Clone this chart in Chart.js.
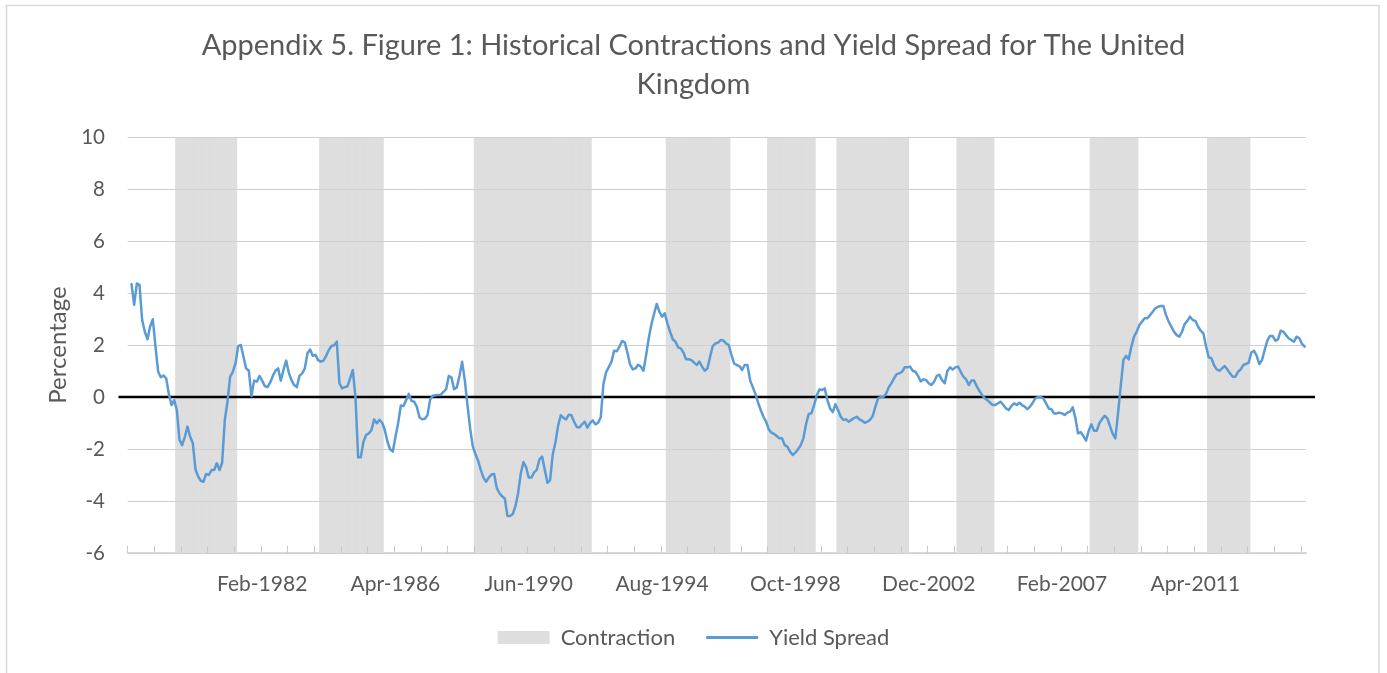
<!DOCTYPE html>
<html>
<head>
<meta charset="utf-8">
<script src="https://cdn.jsdelivr.net/npm/chart.js@4.4.0/dist/chart.umd.min.js"></script>
<style>
html,body{margin:0;padding:0;background:#fff;}
#wrap{width:1387px;height:673px;position:relative;overflow:hidden;}
</style>
</head>
<body>
<div id="wrap"><canvas id="c" width="1387" height="673"></canvas></div>
<script>
// ---- data ----
const MONTHS = ['Jan','Feb','Mar','Apr','May','Jun','Jul','Aug','Sep','Oct','Nov','Dec'];
const firstYear = 1977;
const firstMonth = 11; // Dec-1977
const tickLabels = ['Feb-1982','Apr-1986','Jun-1990','Aug-1994','Oct-1998','Dec-2002','Feb-2007','Apr-2011'];
const yTicksMin = -6;
const yTicksMax = 10;
const yTicksStep = 2;
const contractionStart = ['Jun-1979','Dec-1983','Oct-1988','Oct-1994','Dec-1997','Feb-2000','Nov-2003','Jan-2008','Sep-2011'];
const contractionEnd   = ['Apr-1981','Nov-1985','May-1992','Sep-1996','May-1999','Apr-2002','Dec-2004','Jun-2009','Dec-2012'];
// monthly yield spread (percentage), Dec-1977 .. Sep-2014
const yieldSpread = [
 null, 4.35, 3.54, 4.37, 4.31, 2.96, 2.51, 2.22, 2.71, 2.99,
 1.94, 0.97, 0.76, 0.83, 0.72, 0.12, -0.31, -0.12, -0.50, -1.65,
 -1.85, -1.53, -1.14, -1.53, -1.78, -2.78, -3.06, -3.22, -3.26, -2.96,
 -3.00, -2.81, -2.81, -2.55, -2.81, -2.52, -0.88, -0.18, 0.78, 0.97,
 1.29, 1.96, 2.00, 1.55, 1.10, 1.01, 0.04, 0.63, 0.59, 0.81,
 0.63, 0.42, 0.38, 0.55, 0.81, 1.01, 1.10, 0.63, 1.04, 1.40,
 0.94, 0.65, 0.46, 0.38, 0.81, 0.91, 1.10, 1.68, 1.83, 1.58,
 1.62, 1.42, 1.36, 1.40, 1.58, 1.81, 1.96, 1.99, 2.13, 0.53,
 0.33, 0.38, 0.41, 0.72, 1.04, 0.00, -2.32, -2.32, -1.72, -1.46,
 -1.40, -1.27, -0.86, -1.01, -0.88, -0.99, -1.27, -1.72, -2.01, -2.10,
 -1.53, -1.01, -0.33, -0.35, -0.12, 0.12, -0.15, -0.18, -0.37, -0.78,
 -0.86, -0.84, -0.70, -0.10, 0.05, 0.07, 0.08, 0.08, 0.20, 0.30,
 0.81, 0.75, 0.30, 0.37, 0.81, 1.36, 0.65, -0.30, -1.20, -1.90,
 -2.20, -2.45, -2.80, -3.10, -3.26, -3.10, -2.98, -2.96, -3.50, -3.70,
 -3.82, -3.90, -4.58, -4.58, -4.50, -4.20, -3.70, -2.94, -2.50, -2.70,
 -3.10, -3.10, -2.90, -2.80, -2.40, -2.29, -2.80, -3.30, -3.20, -2.20,
 -1.75, -1.10, -0.70, -0.80, -0.86, -0.68, -0.70, -0.95, -1.15, -1.17,
 -1.05, -0.95, -1.18, -1.00, -0.90, -1.05, -0.99, -0.78, 0.50, 0.95,
 1.15, 1.35, 1.78, 1.76, 1.94, 2.15, 2.10, 1.70, 1.25, 1.06,
 1.10, 1.24, 1.17, 1.01, 1.60, 2.26, 2.80, 3.20, 3.58, 3.28,
 3.09, 3.22, 2.83, 2.51, 2.22, 2.13, 1.91, 1.87, 1.71, 1.45,
 1.45, 1.42, 1.32, 1.23, 1.36, 1.17, 1.01, 1.10, 1.55, 1.96,
 2.06, 2.09, 2.19, 2.17, 2.06, 2.00, 1.62, 1.29, 1.23, 1.19,
 1.04, 1.23, 1.23, 0.65, 0.38, 0.12, -0.22, -0.50, -0.76, -0.95,
 -1.24, -1.37, -1.42, -1.50, -1.59, -1.59, -1.85, -1.91, -2.10, -2.23,
 -2.14, -2.01, -1.85, -1.59, -1.04, -0.65, -0.63, -0.31, 0.06, 0.29,
 0.27, 0.33, -0.12, -0.44, -0.58, -0.28, -0.50, -0.76, -0.88, -0.86,
 -0.95, -0.88, -0.81, -0.76, -0.86, -0.91, -0.99, -0.95, -0.88, -0.73,
 -0.37, -0.05, 0.00, 0.00, 0.12, 0.37, 0.53, 0.72, 0.88, 0.91,
 0.97, 1.14, 1.14, 1.17, 1.01, 0.97, 0.81, 0.60, 0.68, 0.65,
 0.53, 0.46, 0.59, 0.81, 0.85, 0.65, 0.53, 1.00, 1.14, 1.06,
 1.14, 1.17, 0.97, 0.78, 0.68, 0.46, 0.63, 0.63, 0.42, 0.24,
 0.08, -0.05, -0.12, -0.22, -0.31, -0.31, -0.24, -0.18, -0.31, -0.44,
 -0.50, -0.35, -0.24, -0.31, -0.22, -0.31, -0.37, -0.47, -0.37, -0.22,
 -0.05, -0.01, -0.01, -0.05, -0.24, -0.44, -0.47, -0.63, -0.63, -0.60,
 -0.63, -0.69, -0.60, -0.56, -0.40, -0.80, -1.40, -1.35, -1.50, -1.68,
 -1.30, -1.05, -1.30, -1.30, -1.00, -0.85, -0.72, -0.82, -1.12, -1.42,
 -1.59, -0.63, 0.40, 1.42, 1.58, 1.45, 1.94, 2.32, 2.51, 2.77,
 2.90, 3.03, 3.03, 3.15, 3.28, 3.41, 3.47, 3.50, 3.50, 3.15,
 2.90, 2.71, 2.51, 2.38, 2.32, 2.51, 2.81, 2.93, 3.09, 2.96,
 2.93, 2.71, 2.55, 2.45, 1.96, 1.53, 1.49, 1.23, 1.06, 1.01,
 1.10, 1.19, 1.06, 0.91, 0.78, 0.78, 0.97, 1.06, 1.23, 1.27,
 1.32, 1.71, 1.78, 1.58, 1.27, 1.42, 1.81, 2.17, 2.35, 2.35,
 2.17, 2.22, 2.55, 2.51, 2.38, 2.26, 2.19, 2.13, 2.32, 2.26,
 2.04, 1.94
];

// ---- build category labels and contraction bars ----
const categories = yieldSpread.map((_, i) => {
  const m = firstMonth + i;
  return MONTHS[m % 12] + '-' + (firstYear + Math.floor(m / 12));
});
const contraction = categories.map(() => null);
contractionStart.forEach((s, k) => {
  const a = categories.indexOf(s), b = categories.indexOf(contractionEnd[k]);
  for (let i = a; i <= b; i++) contraction[i] = [yTicksMin, yTicksMax];
});

const FONT = 'Lato, "Open Sans", sans-serif';
const TXT = '#595959';
const GRID = '#d9d9d9';
Chart.defaults.font.family = FONT;
Chart.defaults.color = TXT;

const decorPlugin = {
  id: 'decor',
  beforeDraw(chart) {
    const c = chart.ctx;
    c.save();
    c.fillStyle = '#fff';
    c.fillRect(0, 0, chart.width, chart.height);
    c.strokeStyle = GRID;
    c.lineWidth = 1.5;
    c.strokeRect(6.5, 5.5, 1372.5, 720);
    c.restore();
  },
  afterDatasetDraw(chart, args) {
    if (chart.data.datasets[args.index].type !== 'bar') return;
    const c = chart.ctx, ys = chart.scales.y, a = chart.chartArea;
    c.save();
    // gridlines over the contraction shading
    c.strokeStyle = 'rgba(200,200,200,0.6)';
    c.lineWidth = 1;
    ys.ticks.forEach(t => {
      const y = Math.round(ys.getPixelForValue(t.value)) + 0.5;
      c.beginPath(); c.moveTo(a.left, y); c.lineTo(a.right, y); c.stroke();
    });
    // zero line
    const y0 = ys.getPixelForValue(0);
    c.strokeStyle = '#000';
    c.lineWidth = 2.4;
    c.beginPath(); c.moveTo(a.left - 9, y0); c.lineTo(a.right + 9, y0); c.stroke();
    c.restore();
  },
  afterDatasetsDraw(chart) {
    const c = chart.ctx, xs = chart.scales.x, a = chart.chartArea;
    const n = categories.length;
    const w = (xs.getPixelForValue(1) - xs.getPixelForValue(0));
    c.save();
    c.strokeStyle = '#c8c8c8';
    c.lineWidth = 1;
    for (let i = 0; i < n; i += 10) {
      const x = Math.round(xs.getPixelForValue(i) - w / 2) + 0.5;
      c.beginPath(); c.moveTo(x, a.bottom - 7); c.lineTo(x, a.bottom); c.stroke();
    }
    c.restore();
  }
};

new Chart(document.getElementById('c'), {
  data: {
    labels: categories,
    datasets: [
      { type: 'line', label: 'Yield Spread', data: yieldSpread, borderColor: '#5B9BD5',
        borderWidth: 2.5, pointRadius: 0, tension: 0, order: 1,
        borderJoinStyle: 'round', borderCapStyle: 'round', yAxisID: 'y' },
      { type: 'bar', label: 'Contraction', data: contraction, backgroundColor: '#dedede',
        borderWidth: 0, barPercentage: 1, categoryPercentage: 1, order: 2, yAxisID: 'y' }
    ]
  },
  options: {
    responsive: false,
    animation: false,
    events: [],
    layout: { padding: { left: 45, right: 45, top: 0, bottom: 14.5 }, autoPadding: false },
    plugins: {
      tooltip: { enabled: false },
      title: {
        display: true,
        text: ['Appendix 5. Figure 1: Historical Contractions and Yield Spread for The United', 'Kingdom'],
        color: TXT,
        font: { family: FONT, size: 29, weight: 'normal', lineHeight: 1.345 },
        padding: { top: 26.5, bottom: 32.5 }
      },
      legend: {
        position: 'bottom',
        labels: {
          usePointStyle: true,
          pointStyleWidth: 52,
          boxHeight: 13,
          padding: 31,
          color: TXT,
          font: { family: FONT, size: 22 },
          generateLabels: () => [
            { text: 'Contraction', fillStyle: '#dedede', strokeStyle: '#dedede', lineWidth: 0,
              pointStyle: 'rect', datasetIndex: 1, hidden: false, fontColor: TXT },
            { text: 'Yield Spread', fillStyle: '#5B9BD5', strokeStyle: '#5B9BD5', lineWidth: 3,
              pointStyle: 'line', datasetIndex: 0, hidden: false, fontColor: TXT }
          ]
        }
      }
    },
    scales: {
      x: {
        type: 'category',
        offset: true,
        grid: { display: false, drawTicks: false },
        border: { display: true, color: GRID, width: 1.5 },
        ticks: {
          autoSkip: false, maxRotation: 0, minRotation: 0, padding: 19,
          color: TXT, font: { family: FONT, size: 21, lineHeight: 1.2 },
          callback: (v, i) => tickLabels.includes(categories[i]) ? categories[i] : ''
        },
        afterFit: s => { s.height = 42.5; }
      },
      y: {
        position: 'left',
        min: yTicksMin, max: yTicksMax,
        grid: { color: GRID, lineWidth: 1, drawTicks: false },
        border: { display: false },
        ticks: { stepSize: yTicksStep, padding: 22.5, color: TXT, font: { family: FONT, size: 20.5 } },
        title: { display: true, text: 'Percentage', color: TXT, padding: 0,
                 font: { family: FONT, size: 24, lineHeight: 1.1 } },
        afterFit: s => { s.width = 82.5; }
      },
      y2: {
        position: 'right',
        display: true,
        grid: { display: false, drawTicks: false },
        border: { display: false },
        ticks: { display: false },
        afterFit: s => { s.width = 36; }
      }
    }
  },
  plugins: [decorPlugin]
});
</script>
</body>
</html>
